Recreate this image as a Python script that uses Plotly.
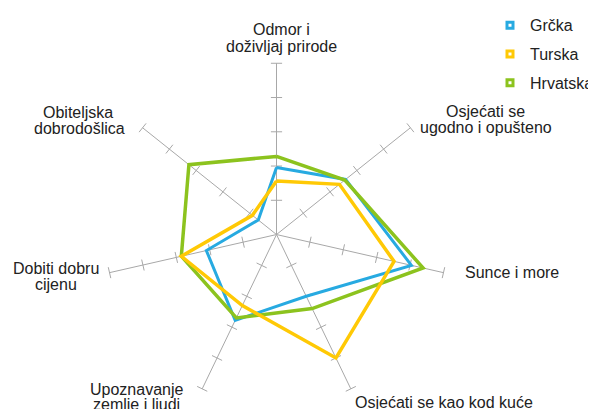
import plotly.graph_objects as go

W, H = 596, 409
OFF = 8  # the page body adds an 8px margin round the figure

categories = [
    "Odmor i doživljaj prirode",
    "Osjećati se ugodno i opušteno",
    "Sunce i more",
    "Osjećati se kao kod kuće",
    "Upoznavanje zemlje i ljudi",
    "Dobiti dobru cijenu",
    "Obiteljska dobrodošlica",
]
grcka = [1.96, 2.58, 4.04, 2.0, 2.78, 2.1, 0.68]
turska = [1.56, 2.35, 3.52, 4.0, 2.3, 2.85, 0.9]
hrvatska = [2.28, 2.55, 4.39, 2.4, 2.7, 2.85, 3.27]
tick_values = [1, 2, 3, 4, 5]

series = [
    ("Grčka", grcka, "#27AAE1", 3),
    ("Hrvatska", hrvatska, "#8CC31E", 3.5),
    ("Turska", turska, "#FFC905", 3.5),
]
legend_order = ["Grčka", "Turska", "Hrvatska"]

fig = go.Figure()

# ticks on every spoke, turned across the spoke
step = 360 / len(categories)
tick_theta, tick_r, tick_angle = [], [], []
for i, c in enumerate(categories):
    for v in tick_values:
        tick_theta.append(c)
        tick_r.append(v)
        tick_angle.append(i * step)
fig.add_trace(go.Scatterpolar(
    r=tick_r, theta=tick_theta, mode="markers", showlegend=False, hoverinfo="skip",
    marker=dict(symbol="line-ew", size=8, angle=tick_angle,
                line=dict(color="#a8a8a8", width=1)),
))

for name, vals, color, w in series:
    fig.add_trace(go.Scatterpolar(
        r=vals + vals[:1], theta=categories + categories[:1], mode="lines",
        name=name, showlegend=False, line=dict(color=color, width=w),
    ))

colors = {n: c for n, _, c, _ in series}
for name in legend_order:
    fig.add_trace(go.Scatterpolar(
        r=[None], theta=[categories[0]], mode="markers", name=name,
        legendgroup=name,
        marker=dict(symbol="square", size=6, color="white",
                    line=dict(color=colors[name], width=3)),
    ))

def px(x, y):
    return (x - OFF) / W, 1 - (y - OFF) / H

labels = [
    ("Odmor i", 281.7, 19.3, "center"),
    ("doživljaj prirode", 281.7, 36, "center"),
    ("Osjećati se", 485, 103.3, "center"),
    ("ugodno i opušteno", 486.3, 119.5, "center"),
    ("Sunce i more", 463.3, 268.3, "left"),
    ("Osjećati se kao kod kuće", 352.7, 401.7, "left"),
    ("Upoznavanje", 136.7, 388.3, "center"),
    ("zemlje i ljudi", 136.7, 404.5, "center"),
    ("Dobiti dobru", 56, 264, "center"),
    ("cijenu", 56, 280.5, "center"),
    ("Obiteljska", 78, 104, "center"),
    ("dobrodošlica", 79.7, 121, "center"),
]
annotations = []
for text, x, y, anchor in labels:
    ax, ay = px(x, y)
    annotations.append(dict(
        text=text, x=ax, y=ay, xref="paper", yref="paper", xanchor=anchor,
        yanchor="middle", showarrow=False,
        font=dict(family="Liberation Sans, Arial", size=16, color="#222"),
    ))

cx, cy, rad = 276.5, 229.5, 176
lx, ly = px(490, -3)
fig.update_layout(
    width=W, height=H,
    margin=dict(l=0, r=0, t=0, b=0),
    paper_bgcolor="white", plot_bgcolor="white",
    font=dict(family="Liberation Sans, Arial", size=16, color="#222"),
    polar=dict(
        domain=dict(x=[(cx - rad - OFF) / W, (cx + rad - OFF) / W],
                    y=[1 - (cy + rad - OFF) / H, 1 - (cy - rad - OFF) / H]),
        bgcolor="white",
        radialaxis=dict(range=[0, 5], showline=False, showgrid=False,
                        showticklabels=False, ticks=""),
        angularaxis=dict(rotation=90, direction="clockwise",
                         showline=False, showticklabels=False, ticks="",
                         gridcolor="#a8a8a8", gridwidth=1),
    ),
    legend=dict(x=lx, y=ly, xanchor="left", yanchor="top",
                traceorder="grouped", tracegroupgap=5,
                font=dict(family="Liberation Sans, Arial", size=16, color="#222"),
                bgcolor="rgba(0,0,0,0)"),
    annotations=annotations,
    showlegend=True,
)

fig.write_html("out.html")
